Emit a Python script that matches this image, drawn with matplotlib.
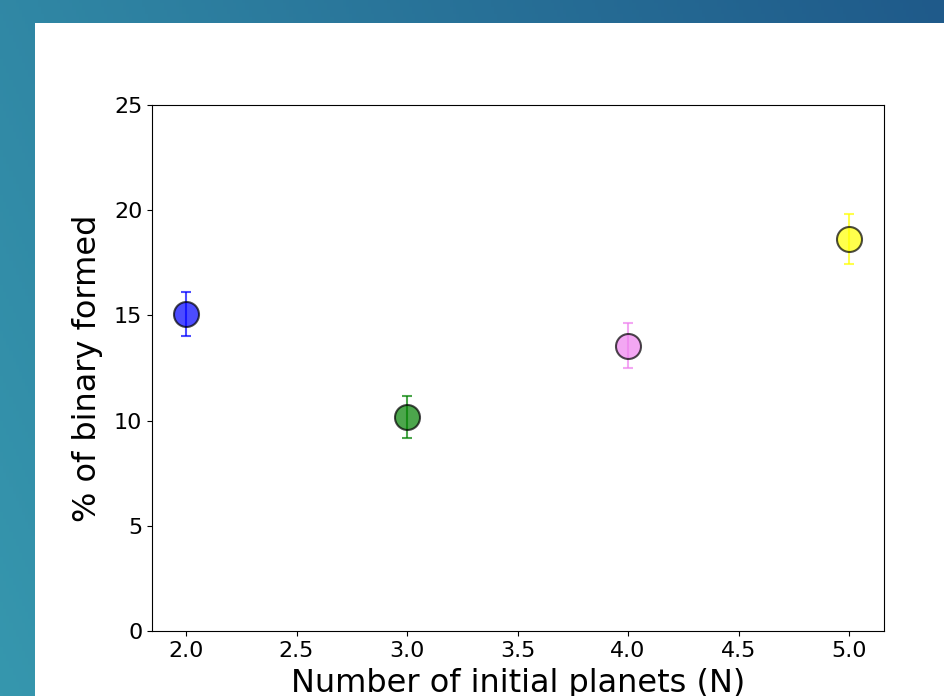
import numpy as np
import matplotlib
matplotlib.use("Agg")
import matplotlib.pyplot as plt
from matplotlib.patches import Rectangle

# Data
n_planets = [2.0, 3.0, 4.0, 5.0]
binary_pct = [15.05, 10.15, 13.55, 18.62]
binary_err = [1.05, 1.0, 1.07, 1.2]
colors = ["blue", "green", "violet", "yellow"]
x_ticks = [2.0, 2.5, 3.0, 3.5, 4.0, 4.5, 5.0]
y_ticks = [0, 5, 10, 15, 20, 25]

W, H = 944, 696
fig = plt.figure(figsize=(W / 100, H / 100), dpi=100)

# slide background gradient
bg = fig.add_axes([0, 0, 1, 1])
gx = np.linspace(0, 1, 300)
gy = np.linspace(0, 1, 200)
GX, GY = np.meshgrid(gx, gy)
t = np.clip(0.75 * GX + 0.25 * (1 - GY), 0, 1)
c0 = np.array([0x36, 0x97, 0xae]) / 255
c1 = np.array([0x1f, 0x5a, 0x8a]) / 255
img = c0[None, None, :] * (1 - t[..., None]) + c1[None, None, :] * t[..., None]
bg.imshow(img, extent=[0, 1, 0, 1], aspect="auto", origin="upper")
bg.add_patch(Rectangle((35 / W, 0), 1 - 35 / W, (H - 23) / H, facecolor="white",
                       edgecolor="none", transform=bg.transAxes))
bg.set_xlim(0, 1)
bg.set_ylim(0, 1)
bg.axis("off")

ax = fig.add_axes([152 / W, (H - 631) / H, (884 - 152) / W, 526 / H])
for xi, yi, ei, c in zip(n_planets, binary_pct, binary_err, colors):
    ax.errorbar(xi, yi, yerr=ei, fmt="o", color=c, ecolor=c, alpha=0.7,
                markersize=18, markeredgecolor="black", markeredgewidth=1.5,
                capsize=3.5, elinewidth=1.5, capthick=1.5)

ax.set_ylim(0, 25)
ax.set_xlim(1.846, 5.158)
ax.set_xticks(x_ticks)
ax.set_xticklabels([f"{v:.1f}" for v in x_ticks])
ax.set_yticks(y_ticks)
ax.tick_params(labelsize=16)
ax.set_xlabel("Number of initial planets (N)", fontsize=23, labelpad=5)
ax.set_ylabel("% of binary formed", fontsize=23, labelpad=8)

fig.savefig("out.png", dpi=100)
